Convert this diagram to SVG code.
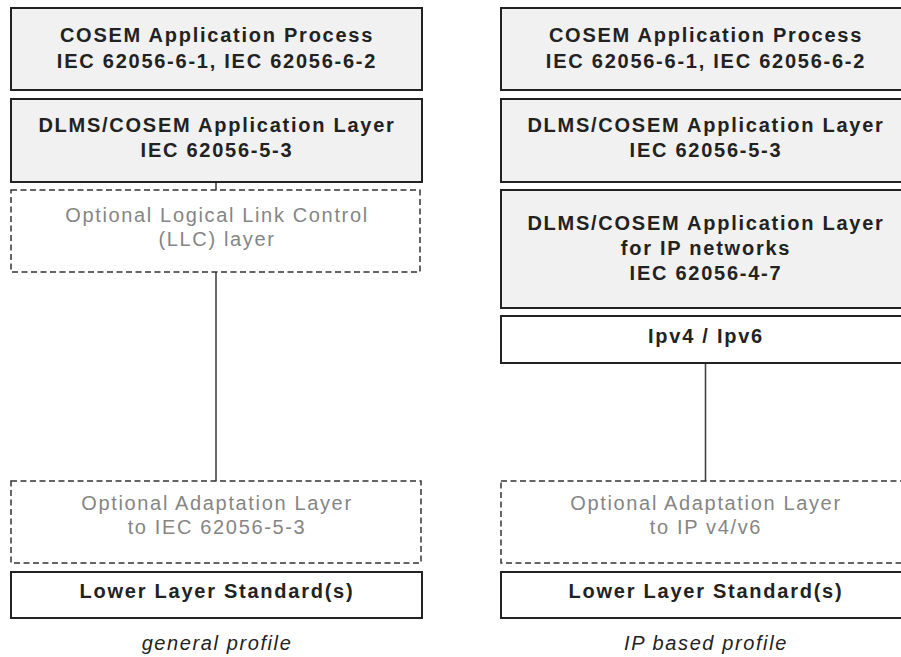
<svg xmlns="http://www.w3.org/2000/svg" width="901" height="657" viewBox="0 0 901 657">
<style>
.solid{stroke:#222;stroke-width:2;}
.gray{fill:#f1f1f1;}
.white{fill:#fff;}
.dash{fill:#fff;stroke:#333;stroke-width:1.5;stroke-dasharray:6,3.5;}
.b{font-family:"Liberation Sans",Arial,sans-serif;font-weight:bold;font-size:20px;letter-spacing:1.75px;fill:#222;text-anchor:middle;}
.g{font-family:"Liberation Sans",Arial,sans-serif;font-size:20px;letter-spacing:1.65px;fill:#858585;text-anchor:middle;}
.cap{font-family:"Liberation Sans",Arial,sans-serif;font-style:italic;font-size:20px;letter-spacing:1.6px;fill:#222;text-anchor:middle;}
.conn{stroke:#444;stroke-width:1.6;fill:none;}
</style>
<rect width="901" height="657" fill="#fff"/>
<g id="connectors">
<line class="conn" x1="216" y1="182" x2="216" y2="190"/>
<line class="conn" x1="216" y1="272" x2="216" y2="481"/>
<line class="conn" x1="705.5" y1="363" x2="705.5" y2="481"/>
</g>
<g id="l-cosem-ap">
<rect class="solid gray" x="11" y="8" width="411" height="82"/>
<text class="b" x="217" y="42">COSEM Application Process</text>
<text class="b" x="217" y="68">IEC 62056-6-1, IEC 62056-6-2</text>
</g>
<g id="l-dlms-al">
<rect class="solid gray" x="11" y="99" width="411" height="83"/>
<text class="b" x="217" y="132">DLMS/COSEM Application Layer</text>
<text class="b" x="217" y="157">IEC 62056-5-3</text>
</g>
<g id="l-llc">
<rect class="dash" x="11" y="190" width="409" height="82"/>
<text class="g" x="217" y="222">Optional Logical Link Control</text>
<text class="g" x="217" y="246">(LLC) layer</text>
</g>
<g id="l-adapt">
<rect class="dash" x="11" y="481" width="410" height="82"/>
<text class="g" x="217" y="510">Optional Adaptation Layer</text>
<text class="g" x="217" y="534">to IEC 62056-5-3</text>
</g>
<g id="l-lower">
<rect class="solid white" x="11" y="572" width="411" height="46"/>
<text class="b" x="217" y="598">Lower Layer Standard(s)</text>
</g>
<g id="l-caption">
<text class="cap" x="217" y="650">general profile</text>
</g>
<g id="r-cosem-ap">
<rect class="solid gray" x="501" y="8" width="411" height="82"/>
<text class="b" x="706" y="42">COSEM Application Process</text>
<text class="b" x="706" y="68">IEC 62056-6-1, IEC 62056-6-2</text>
</g>
<g id="r-dlms-al">
<rect class="solid gray" x="501" y="99" width="411" height="83"/>
<text class="b" x="706" y="132">DLMS/COSEM Application Layer</text>
<text class="b" x="706" y="157">IEC 62056-5-3</text>
</g>
<g id="r-dlms-ip">
<rect class="solid gray" x="501" y="190" width="411" height="118"/>
<text class="b" x="706" y="230">DLMS/COSEM Application Layer</text>
<text class="b" x="706" y="255">for IP networks</text>
<text class="b" x="706" y="280">IEC 62056-4-7</text>
</g>
<g id="r-ip">
<rect class="solid white" x="501" y="316" width="411" height="47"/>
<text class="b" x="706" y="343">Ipv4 / Ipv6</text>
</g>
<g id="r-adapt">
<rect class="dash" x="501" y="481" width="411" height="82"/>
<text class="g" x="706" y="510">Optional Adaptation Layer</text>
<text class="g" x="706" y="534">to IP v4/v6</text>
</g>
<g id="r-lower">
<rect class="solid white" x="501" y="572" width="411" height="46"/>
<text class="b" x="706" y="598">Lower Layer Standard(s)</text>
</g>
<g id="r-caption">
<text class="cap" x="706" y="650">IP based profile</text>
</g>
</svg>
